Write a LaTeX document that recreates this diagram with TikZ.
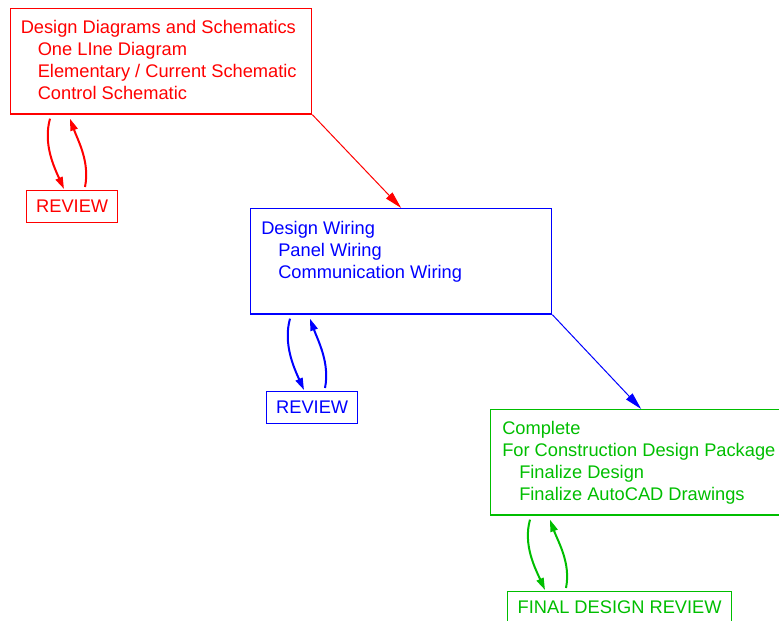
\documentclass[tikz,border=0pt]{standalone}
\usepackage{fontspec}
\setmainfont{Liberation Sans}
\usepackage{tikz}
\usetikzlibrary{arrows.meta,positioning,calc}
\definecolor{stepgreen}{RGB}{0,190,0}
\newcommand{\ind}{\hspace*{12.75pt}}
\tikzset{
  bigbox/.style={draw,line width=1pt,anchor=north west,inner sep=0pt,
    minimum width=225.75pt,minimum height=79pt},
  boxtext/.style={anchor=north west,inner sep=0pt,align=left},
  reviewbox/.style={draw,line width=1pt,anchor=north west,inner sep=0pt,
    minimum height=24pt},
  flow/.style={line width=0.75pt,-{Triangle[length=13pt,width=6.5pt]}},
  loop/.style={line width=1.5pt,-{Triangle[length=9pt,width=5.5pt]}}
}
\begin{document}
\begin{tikzpicture}[x=0.75pt,y=-0.75pt,font=\fontsize{13.7}{16.6}\selectfont]
        \useasboundingbox (0,0) rectangle (779,621);
        \clip (0,0) rectangle (779,621);
        % draw boxes
        \node[bigbox,red] (diag) at (10,8) {};
        \node[bigbox,blue] (wiring) at (250,208) {};
        \node[bigbox,stepgreen] (complete) at (490,409) {};
        % draw box texts
        \node[boxtext,red] (diagtxt) at ($(diag.north west)+(10.5,12)$)
          {Design Diagrams and Schematics\\ \ind One LIne Diagram\\
           \ind Elementary / Current Schematic\\ \ind Control Schematic};
        \node[boxtext,blue] (wiringtxt) at ($(wiring.north west)+(11,12.5)$)
          {Design Wiring\\ \ind Panel Wiring\\ \ind Communication Wiring};
        \node[boxtext,stepgreen] (completetxt) at ($(complete.north west)+(12,12)$)
          {Complete\\ For Construction Design Package\\
           \ind Finalize Design\\ \ind Finalize AutoCAD Drawings};
        % draw review boxes
        \node[reviewbox,red,minimum width=68.25pt] (rev1) at (26,190) {REVIEW};
        \node[reviewbox,blue,minimum width=68.25pt] (rev2) at (266,391) {REVIEW};
        \node[reviewbox,stepgreen,minimum width=168pt] (rev3) at (507,591) {FINAL DESIGN REVIEW};
        % draw flow arrows
        \draw[flow,red] (diag.south east) -- (wiring.north);
        \draw[flow,blue] (wiring.south east) -- (complete.north);
        % draw review loops
        \foreach \b/\r/\c in {diag/rev1/red,wiring/rev2/blue,complete/rev3/stepgreen}{
          \draw[loop,\c] ($(\b.south west)+(40,4)$) .. controls +(-7,25) and +(-10,-22) .. ($(\r.north west)+(38,-1)$);
          \draw[loop,\c] ($(\r.north west)+(59,-3)$) .. controls +(5,-25) and +(8,22) .. ($(\b.south west)+(60,4)$);
        }
\end{tikzpicture}
\end{document}
